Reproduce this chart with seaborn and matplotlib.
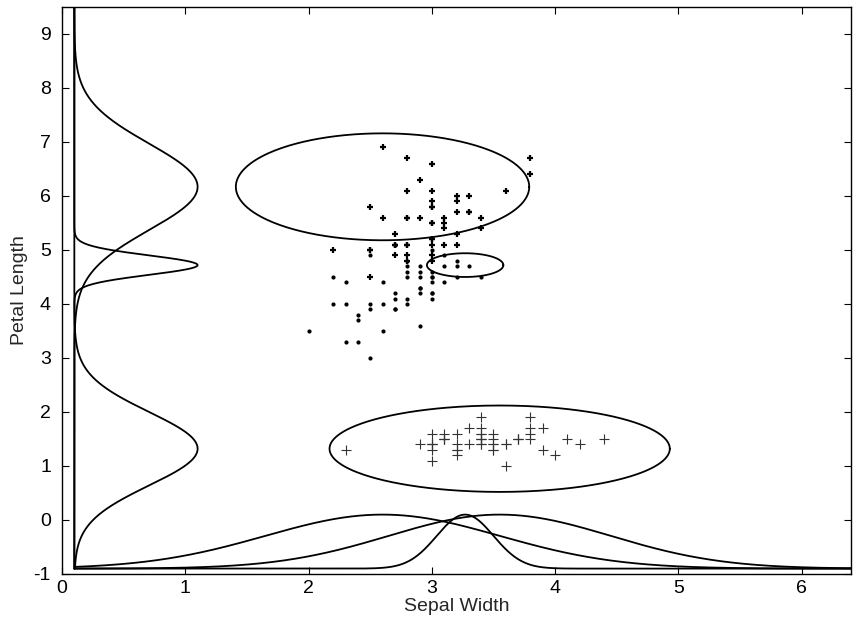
import numpy as np
import pandas as pd
import matplotlib
matplotlib.use("Agg")
import matplotlib.pyplot as plt
import seaborn as sns

# Iris measurements: sepal width and petal length per species
setosa_sw = [3.5, 3.0, 3.2, 3.1, 3.6, 3.9, 3.4, 3.4, 2.9, 3.1, 3.7, 3.4, 3.0, 3.0, 4.0,
             4.4, 3.9, 3.5, 3.8, 3.8, 3.4, 3.7, 3.6, 3.3, 3.4, 3.0, 3.4, 3.5, 3.4, 3.2,
             3.1, 3.4, 4.1, 4.2, 3.1, 3.2, 3.5, 3.6, 3.0, 3.4, 3.5, 2.3, 3.2, 3.5, 3.8,
             3.0, 3.8, 3.2, 3.7, 3.3]
setosa_pl = [1.4, 1.4, 1.3, 1.5, 1.4, 1.7, 1.4, 1.5, 1.4, 1.5, 1.5, 1.6, 1.4, 1.1, 1.2,
             1.5, 1.3, 1.4, 1.7, 1.5, 1.7, 1.5, 1.0, 1.7, 1.9, 1.6, 1.6, 1.5, 1.4, 1.6,
             1.6, 1.5, 1.5, 1.4, 1.5, 1.2, 1.3, 1.4, 1.3, 1.5, 1.3, 1.3, 1.3, 1.6, 1.9,
             1.4, 1.6, 1.4, 1.5, 1.4]
versicolor_sw = [3.2, 3.2, 3.1, 2.3, 2.8, 2.8, 3.3, 2.4, 2.9, 2.7, 2.0, 3.0, 2.2, 2.9, 2.9,
                 3.1, 3.0, 2.7, 2.2, 2.5, 3.2, 2.8, 2.5, 2.8, 2.9, 3.0, 2.8, 3.0, 2.9, 2.6,
                 2.4, 2.4, 2.7, 2.7, 3.0, 3.4, 3.1, 2.3, 3.0, 2.5, 2.6, 3.0, 2.6, 2.3, 2.7,
                 3.0, 2.9, 2.9, 2.5, 2.8]
versicolor_pl = [4.7, 4.5, 4.9, 4.0, 4.6, 4.5, 4.7, 3.3, 4.6, 3.9, 3.5, 4.2, 4.0, 4.7, 3.6,
                 4.4, 4.5, 4.1, 4.5, 3.9, 4.8, 4.0, 4.9, 4.7, 4.3, 4.4, 4.8, 5.0, 4.5, 3.5,
                 3.8, 3.7, 3.9, 5.1, 4.5, 4.5, 4.7, 4.4, 4.1, 4.0, 4.4, 4.6, 4.0, 3.3, 4.2,
                 4.2, 4.2, 4.3, 3.0, 4.1]
virginica_sw = [3.3, 2.7, 3.0, 2.9, 3.0, 3.0, 2.5, 2.9, 2.5, 3.6, 3.2, 2.7, 3.0, 2.5, 2.8,
                3.2, 3.0, 3.8, 2.6, 2.2, 3.2, 2.8, 2.8, 2.7, 3.3, 3.2, 2.8, 3.0, 2.8, 3.0,
                2.8, 3.8, 2.8, 2.8, 2.6, 3.0, 3.4, 3.1, 3.0, 3.1, 3.1, 3.1, 2.7, 3.2, 3.3,
                3.0, 2.5, 3.0, 3.4, 3.0]
virginica_pl = [6.0, 5.1, 5.9, 5.6, 5.8, 6.6, 4.5, 6.3, 5.8, 6.1, 5.1, 5.3, 5.5, 5.0, 5.1,
                5.3, 5.5, 6.7, 6.9, 5.0, 5.7, 4.9, 6.7, 4.9, 5.7, 6.0, 4.8, 4.9, 5.6, 5.8,
                6.1, 6.4, 5.6, 5.1, 5.6, 6.1, 5.6, 5.5, 4.8, 5.4, 5.6, 5.1, 5.1, 5.9, 5.7,
                5.2, 5.0, 5.2, 5.4, 5.1]

# Fitted mixture components (sepal width, petal length)
comp_mean_sw = [2.60, 3.27, 3.55]
comp_mean_pl = [6.17, 4.72, 1.32]
comp_sd_sw = [0.95, 0.23, 0.90]
comp_sd_pl = [0.80, 0.18, 0.68]
# Ellipse half-axes drawn around each component
ell_half_sw = [1.19, 0.31, 1.38]
ell_half_pl = [0.99, 0.22, 0.80]

x_ticks = [0, 1, 2, 3, 4, 5, 6]
y_ticks = [-1, 0, 1, 2, 3, 4, 5, 6, 7, 8, 9]

sns.set_style("ticks")
plt.rcParams["font.family"] = ["Liberation Sans", "DejaVu Sans"]

fig = plt.figure(figsize=(8.54, 6.3), dpi=100)
ax = fig.add_axes([0.0726, 0.0889, 0.9239, 0.9000])

# Marginal densities: along the left (petal length) and bottom (sepal width)
base_x, base_y = 0.1, -0.9
yy = np.linspace(-0.9, 9.6, 1200)
xx = np.linspace(0.1, 6.6, 1200)
for m_sw, m_pl, s_sw, s_pl in zip(comp_mean_sw, comp_mean_pl, comp_sd_sw, comp_sd_pl):
    dens_pl = base_x + np.exp(-0.5 * ((yy - m_pl) / s_pl) ** 2)
    sns.lineplot(x=dens_pl, y=yy, sort=False, estimator=None, color="black",
                 linewidth=1.3, ax=ax)
    dens_sw = base_y + np.exp(-0.5 * ((xx - m_sw) / s_sw) ** 2)
    sns.lineplot(x=xx, y=dens_sw, sort=False, estimator=None, color="black",
                 linewidth=1.3, ax=ax)

# Component ellipses
t = np.linspace(0, 2 * np.pi, 400)
for m_sw, m_pl, a, b in zip(comp_mean_sw, comp_mean_pl, ell_half_sw, ell_half_pl):
    sns.lineplot(x=m_sw + a * np.cos(t), y=m_pl + b * np.sin(t), sort=False,
                 estimator=None, color="black", linewidth=1.3, ax=ax)

# Observations
sns.scatterplot(x=setosa_sw, y=setosa_pl, marker="+", s=45, color="#333333",
                linewidth=0.8, ax=ax, zorder=3)
sns.scatterplot(x=versicolor_sw, y=versicolor_pl, marker="o", s=9, color="black",
                linewidth=0, ax=ax, zorder=3)
sns.scatterplot(x=virginica_sw, y=virginica_pl, marker="+", s=22, color="black",
                linewidth=1.6, ax=ax, zorder=3)

ax.set_xlim(0, 6.4)
ax.set_ylim(-1, 9.5)
ax.set_xticks(x_ticks)
ax.set_yticks(y_ticks)
ax.set_xticklabels([str(v) for v in x_ticks])
ax.set_yticklabels([str(v) for v in y_ticks])
ax.tick_params(direction="in", length=5, width=0.8, labelsize=14, colors="black",
               top=True, right=True)
ax.tick_params(axis="y", pad=8)
ax.tick_params(axis="x", pad=4)
for sp in ax.spines.values():
    sp.set_visible(True)
    sp.set_color("black")
    sp.set_linewidth(1.0)
ax.set_xlabel("Sepal Width", fontsize=14, labelpad=1)
ax.set_ylabel("Petal Length", fontsize=14, labelpad=4)

fig.savefig("out.png", dpi=100)
